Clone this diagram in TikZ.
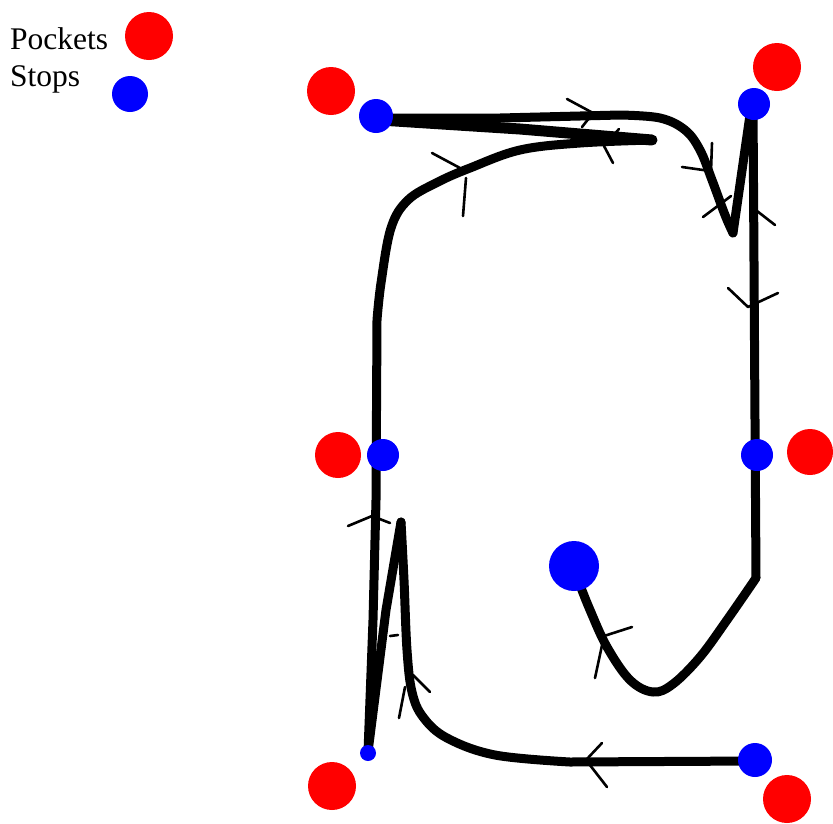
\documentclass[tikz,border=0pt]{standalone}
\usepackage{fontspec}
\setmainfont{Liberation Serif}
\begin{document}
\begin{tikzpicture}[x=1pt,y=-1pt,
  stroke/.style={line width=9pt,line cap=round,line join=round},
  tick/.style={line width=2.6pt,line cap=round,line join=round},
  pocket/.style={circle,fill=red,inner sep=0pt,minimum size=#1},
  stopdot/.style={circle,fill=blue,inner sep=0pt,minimum size=#1},
  lbl/.style={anchor=base west,inner sep=0pt,font=\fontsize{31.5}{31.5}\selectfont}]
\useasboundingbox (0,0) rectangle (833,823);
% legend
\node[lbl] (lp) at (10,49) {Pockets};
\node[lbl] (ls) at (10,86) {Stops};
\node[pocket=48pt] (legp) at (149,36) {};
\node[stopdot=36pt] (legs) at (130,94) {};
% bottom stroke
\draw[stroke] (754,761) -- (570,762)
  plot[smooth,tension=0.6] coordinates {(570,762) (495,755) (447,738) (423,717) (412,692) (407,650) (404,580) (401,522)};
% zigzag bottom-left
\draw[stroke] (401,522) -- (386,610) -- (368,752);
\draw[stroke] (368,752) -- (373,620) -- (376,500) -- (377,320)
  plot[smooth,tension=0.6] coordinates {(377,320) (381,283) (391,228) (408,200) (438,182) (470,168) (520,150) (580,143) (652,140)};
% top return
\draw[line width=11pt,line cap=round,line join=round] (652,140) -- (520,129) -- (380,120);
% top outward
\draw[stroke] (380,118) -- (500,118) -- (620,115)
  plot[smooth,tension=0.6] coordinates {(620,115) (660,118) (685,130) (700,150) (712,180) (725,215) (733,233)};
\draw[stroke] (733,233) -- (751,108);
% right side
\draw[stroke] (753,105) -- (756,578)
  plot[smooth,tension=0.6] coordinates {(756,578) (727,620) (700,657) (673,684) (653,692) (630,680) (607,647) (590,610) (580,585)};
% chevrons
\draw[tick] (567,99) -- (593,113) -- (582,127);
\draw[tick] (619,129) -- (604,146) -- (613,163);
\draw[tick] (432,153) -- (460,168);
\draw[tick] (466,178) -- (463,216);
\draw[tick] (682,167) -- (710,171);
\draw[tick] (712,143) -- (711,171);
\draw[tick] (703,217) -- (731,196);
\draw[tick] (757,211) -- (775,225);
\draw[tick] (728,288) -- (748,307) -- (778,293);
\draw[tick] (632,627) -- (604,636) -- (595,678);
\draw[tick] (602,743) -- (586,760) -- (607,787);
\draw[tick] (348,526) -- (372,516) -- (390,523);
\draw[tick] (390,636) -- (398,635);
\draw[tick] (413,675) -- (430,692);
\draw[tick] (405,687) -- (399,718);
% pockets
\node[pocket=48pt] (p1) at (331,91) {};
\node[pocket=48pt] (p2) at (777,67) {};
\node[pocket=46pt] (p3) at (338,455) {};
\node[pocket=46pt] (p4) at (810,452) {};
\node[pocket=48pt] (p5) at (332,786) {};
\node[pocket=48pt] (p6) at (787,799) {};
% stops
\node[stopdot=34pt] (s1) at (376,116) {};
\node[stopdot=32pt] (s2) at (754,104) {};
\node[stopdot=32pt] (s3) at (383,455) {};
\node[stopdot=32pt] (s4) at (757,455) {};
\node[stopdot=50pt] (s5) at (574,566) {};
\node[stopdot=34pt] (s6) at (755,760) {};
\node[stopdot=16pt] (s7) at (368,753) {};
\end{tikzpicture}
\end{document}
